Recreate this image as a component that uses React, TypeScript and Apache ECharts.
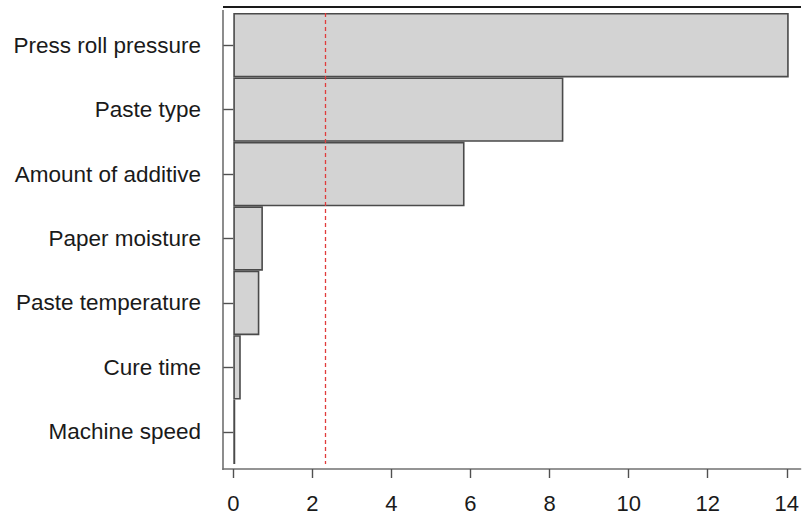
import React, { useEffect, useRef } from "react";
import * as echarts from "echarts";

const factors = [
  "Press roll pressure",
  "Paste type",
  "Amount of additive",
  "Paper moisture",
  "Paste temperature",
  "Cure time",
  "Machine speed",
];
const effects = [14.05, 8.35, 5.85, 0.75, 0.66, 0.19, 0.05];
const referenceLine = 2.32;
const xTicks = [0, 2, 4, 6, 8, 10, 12, 14];

const FONT = "Liberation Sans, Arial, Helvetica, sans-serif";

export default function App() {
  const ref = useRef<HTMLDivElement>(null);
  useEffect(() => {
    const chart = echarts.init(ref.current!, null, { renderer: "svg" });
    chart.setOption({
      animation: false,
      backgroundColor: "#ffffff",
      grid: { left: 223, right: 1, top: 13, bottom: 49, containLabel: false },
      xAxis: {
        type: "value",
        min: -0.26,
        max: 14.35,
        offset: 5,
        splitLine: { show: false },
        axisLine: { show: true, lineStyle: { color: "#707070", width: 1.6 } },
        axisTick: {
          show: true,
          customValues: xTicks,
          length: 9,
          lineStyle: { color: "#505050", width: 1.4 },
        },
        axisLabel: {
          customValues: xTicks,
          margin: 23,
          fontSize: 22,
          color: "#1a1a1a",
          fontFamily: FONT,
        },
      },
      yAxis: {
        type: "category",
        data: factors,
        inverse: true,
        axisLine: { show: false },
        splitLine: { show: false },
        axisTick: {
          show: true,
          alignWithLabel: true,
          length: 10,
          lineStyle: { color: "#505050", width: 1.4 },
        },
        axisLabel: {
          margin: 22,
          fontSize: 22.5,
          color: "#1a1a1a",
          fontFamily: FONT,
        },
      },
      series: [
        {
          type: "bar",
          data: effects,
          barCategoryGap: 0,
          itemStyle: { color: "#d3d3d3", borderColor: "#4a4a4a", borderWidth: 1.6 },
          markLine: {
            symbol: "none",
            silent: true,
            label: { show: false },
            lineStyle: { color: "#e03c3c", type: [4, 3], width: 1.3 },
            data: [{ xAxis: referenceLine }],
          },
        },
      ],
      graphic: [
        {
          type: "line",
          shape: { x1: 223, y1: 10, x2: 223, y2: 470 },
          style: { stroke: "#707070", lineWidth: 1.6 },
        },
        {
          type: "line",
          shape: { x1: 223, y1: 7, x2: 801, y2: 7 },
          style: { stroke: "#1a1a1a", lineWidth: 2 },
        },
      ],
    });
    return () => chart.dispose();
  }, []);
  return (
    <div
      ref={ref}
      style={{ position: "absolute", left: 0, top: 0, width: 802, height: 514 }}
    />
  );
}
